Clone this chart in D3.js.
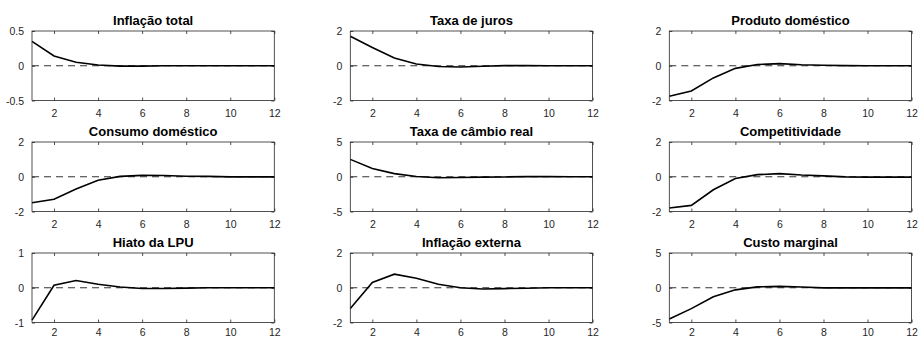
<!DOCTYPE html>
<html>
<head>
<meta charset="utf-8">
<script src="https://cdn.jsdelivr.net/npm/d3@7"></script>
<style>
  body { margin: 0; background: #fff; }
  svg { display: block; }
  .tick text { font-family: "Liberation Sans", Arial, sans-serif; font-size: 10.5px; fill: #262626; }
  .title { font-family: "Liberation Sans", Arial, sans-serif; font-size: 13px; font-weight: bold; fill: #000; }
</style>
</head>
<body>
<svg width="918" height="338"></svg>
<script>
// periods of the impulse response
const periods = d3.range(1, 13);

// panel titles, y limits and responses
const titles = [
  "Inflação total", "Taxa de juros", "Produto doméstico",
  "Consumo doméstico", "Taxa de câmbio real", "Competitividade",
  "Hiato da LPU", "Inflação externa", "Custo marginal"
];
const yLimits = [0.5, 2, 2, 2, 5, 2, 1, 2, 5];
const yTickLabels = [
  ["-0.5", "0", "0.5"], ["-2", "0", "2"], ["-2", "0", "2"],
  ["-2", "0", "2"], ["-5", "0", "5"], ["-2", "0", "2"],
  ["-1", "0", "1"], ["-2", "0", "2"], ["-5", "0", "5"]
];

const inflacaoTotal   = [0.35, 0.14, 0.05, 0.01, -0.005, -0.005, 0, 0, 0, 0, 0, 0];
const taxaJuros       = [1.7, 1.05, 0.45, 0.1, -0.04, -0.07, -0.03, 0.01, 0.01, 0, 0, 0];
const produto         = [-1.75, -1.45, -0.7, -0.15, 0.07, 0.12, 0.06, 0.03, 0.01, 0, 0, 0];
const consumo         = [-1.5, -1.3, -0.7, -0.2, 0.02, 0.08, 0.07, 0.03, 0.02, -0.01, -0.01, -0.01];
const cambioReal      = [2.5, 1.2, 0.45, 0.03, -0.15, -0.1, -0.05, -0.03, 0.02, 0.02, 0.01, 0.01];
const competitividade = [-1.8, -1.65, -0.75, -0.1, 0.12, 0.18, 0.1, 0.05, -0.01, -0.02, -0.02, -0.02];
const hiatoLPU        = [-0.93, 0.07, 0.21, 0.1, 0.02, -0.02, -0.02, -0.01, 0, 0, 0, 0];
const inflacaoExterna = [-1.2, 0.3, 0.78, 0.55, 0.2, 0.0, -0.07, -0.05, -0.03, 0, 0, 0];
const custoMarginal   = [-4.5, -3.0, -1.3, -0.3, 0.12, 0.2, 0.1, -0.02, -0.02, -0.02, -0.02, -0.02];

const series = [inflacaoTotal, taxaJuros, produto, consumo, cambioReal,
                competitividade, hiatoLPU, inflacaoExterna, custoMarginal];

const xTicks = [2, 4, 6, 8, 10, 12];

const svg = d3.select("svg");
const colLeft = [32, 350.3, 669.3];
const rowTop = [31, 142, 253];
const width = 242.3;
const height = 69.5;

series.forEach((values, i) => {
  const col = i % 3, row = Math.floor(i / 3);
  const lim = yLimits[i];
  const g = svg.append("g")
    .attr("transform", `translate(${colLeft[col]},${rowTop[row]})`);

  const x = d3.scaleLinear().domain([1, 12]).range([0, width]);
  const y = d3.scaleLinear().domain([-lim, lim]).range([height, 0]);
  const yTicks = [-lim, 0, lim];

  // bottom axis with labels, top axis without (matlab box style, ticks inside)
  // last row sits at the page edge, so its labels get a little less padding
  g.append("g")
    .call(a => a.attr("transform", `translate(0,${height})`))
    .call(d3.axisBottom(x).tickValues(xTicks).tickSizeInner(-3).tickSizeOuter(0)
      .tickPadding(row === 2 ? 6 : 9).tickFormat(d3.format("d")))
    .call(a => a.select(".domain").remove())
    .call(a => a.selectAll(".tick text").attr("dy", "0.71em"));
  g.append("g")
    .call(d3.axisTop(x).tickValues(xTicks).tickSizeInner(-3).tickSizeOuter(0).tickFormat(""))
    .call(a => a.select(".domain").remove());

  g.append("g")
    .call(d3.axisLeft(y).tickValues(yTicks).tickSizeInner(-3).tickSizeOuter(0).tickPadding(8)
      .tickFormat((d, k) => yTickLabels[i][k]))
    .call(a => a.select(".domain").remove())
    .call(a => a.selectAll(".tick text").attr("dy", "0.35em"));
  g.append("g")
    .attr("transform", `translate(${width},0)`)
    .call(d3.axisRight(y).tickValues(yTicks).tickSizeInner(-3).tickSizeOuter(0).tickFormat(""))
    .call(a => a.select(".domain").remove());

  g.selectAll(".tick line").attr("stroke", "#262626").attr("stroke-width", 0.8);

  // zero line
  g.append("line")
    .attr("x1", 0).attr("x2", width)
    .attr("y1", y(0)).attr("y2", y(0))
    .attr("stroke", "#333").attr("stroke-width", 1)
    .attr("stroke-dasharray", "7,5");

  // response
  g.append("path")
    .datum(values)
    .attr("fill", "none")
    .attr("stroke", "#000")
    .attr("stroke-width", 1.6)
    .attr("d", d3.line().x((d, k) => x(periods[k])).y(d => y(d)));

  // box
  g.append("rect")
    .attr("width", width).attr("height", height)
    .attr("fill", "none")
    .attr("stroke", "#262626").attr("stroke-width", 0.8);

  g.append("text")
    .attr("class", "title")
    .attr("x", width / 2).attr("y", -6)
    .attr("text-anchor", "middle")
    .text(titles[i]);
});
</script>
</body>
</html>
